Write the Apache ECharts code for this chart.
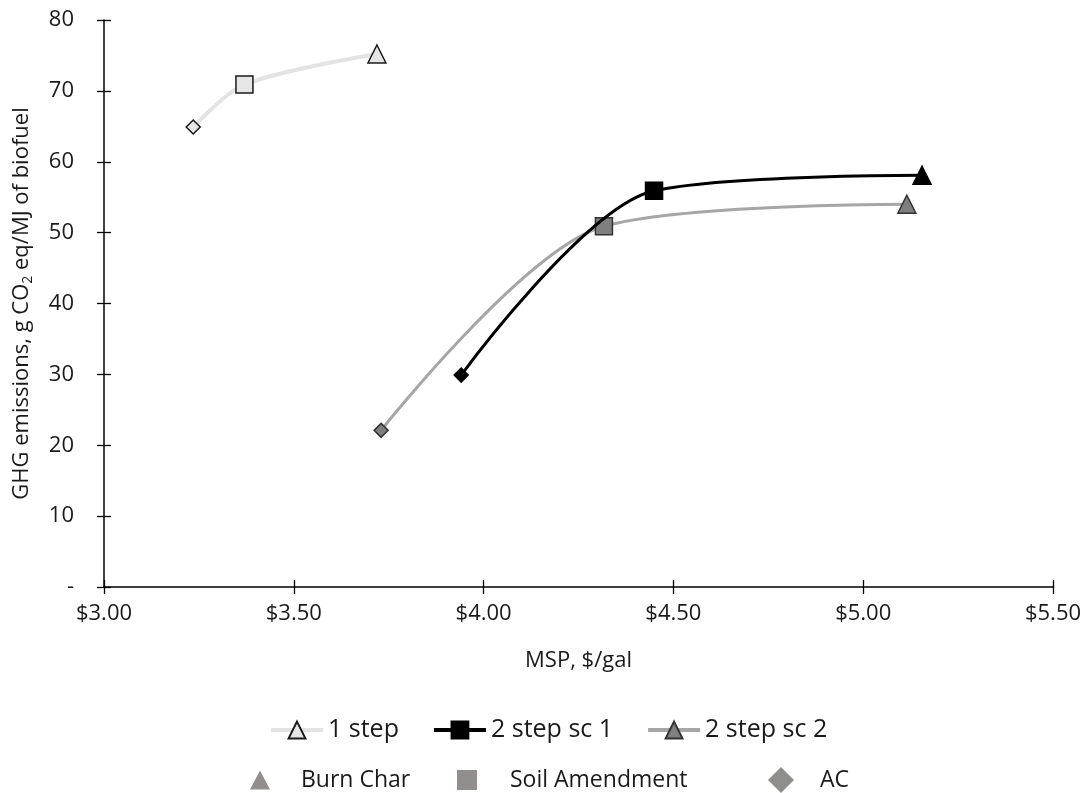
<!DOCTYPE html>
<html><head><meta charset="utf-8">
<script src="https://cdn.jsdelivr.net/npm/echarts@6/dist/echarts.min.js"></script>
<style>html,body{margin:0;padding:0;background:#fff}#c{width:1087px;height:793px}</style>
</head><body><div id="c"></div>
<script>
const seriesNames = ['1 step', '2 step sc 1', '2 step sc 2'];
const markerNames = ['Burn Char', 'Soil Amendment', 'AC'];
const pointSymbols = ['diamond', 'rect', 'triangle'];
const step1X = [3.235, 3.37, 3.719];
const step1Y = [64.9, 70.9, 75.2];
const sc1X = [3.941, 4.449, 5.155];
const sc1Y = [29.9, 55.9, 58.1];
const sc2X = [3.73, 4.317, 5.115];
const sc2Y = [22.1, 50.9, 54];
const xTicks = [3.0, 3.5, 4.0, 4.5, 5.0, 5.5];
const yTicks = [0, 10, 20, 30, 40, 50, 60, 70, 80];

const FONT = '"Open Sans", sans-serif';
const TXT = '#1a1a1a';
const symSize = {diamond: 14, rect: 17, triangle: 18};

function pts(xs, ys) {
  return xs.map((x, i) => ({value: [x, ys[i]], symbol: pointSymbols[i], symbolSize: symSize[pointSymbols[i]]}));
}

const styles = [
  {line: '#e3e3e3', width: 4, fill: '#e6e6e6', border: '#1a1a1a', sym: 'triangle'},
  {line: '#000000', width: 3, fill: '#000000', border: '#000000', sym: 'rect'},
  {line: '#a6a6a6', width: 3, fill: '#7f7f7f', border: '#333333', sym: 'triangle'}
];
const dataSets = [pts(step1X, step1Y), pts(sc1X, sc1Y), pts(sc2X, sc2Y)];

const series = seriesNames.map((n, i) => ({
  name: n, type: 'line', smooth: 0.3, xAxisIndex: 0, yAxisIndex: 0,
  symbol: styles[i].sym, symbolSize: 17,
  lineStyle: {color: styles[i].line, width: styles[i].width},
  itemStyle: {color: styles[i].fill, borderColor: styles[i].border, borderWidth: 1.5},
  data: dataSets[i], z: i === 1 ? 4 : 3
}));
const markerColor = '#777272';
const markerSyms = ['triangle', 'rect', 'diamond'];
markerNames.forEach((n, i) => series.push({
  name: n, type: 'scatter', symbol: markerSyms[i], data: [],
  itemStyle: {color: markerColor}
}));

const chart = echarts.init(document.getElementById('c'));
const axisCommon = {
  axisLine: {show: true, lineStyle: {color: '#000', width: 1.5}},
  splitLine: {show: false}
};
const tickStyle = {color: '#000', width: 1.3};
chart.setOption({
  animation: false,
  grid: {left: 104, right: 34, top: 20, bottom: 206},
  xAxis: [{
    type: 'value', min: xTicks[0], max: xTicks[xTicks.length - 1], interval: 0.5,
    ...axisCommon,
    axisTick: {show: true, length: 7, lineStyle: tickStyle},
    axisLabel: {fontFamily: FONT, fontSize: 22, color: TXT, margin: 16, formatter: v => '$' + v.toFixed(2)},
    name: 'MSP, $/gal', nameLocation: 'middle', nameGap: 63,
    nameTextStyle: {fontFamily: FONT, fontSize: 22, color: TXT}
  }, {
    type: 'value', position: 'bottom', min: xTicks[0], max: xTicks[xTicks.length - 1], interval: 0.5,
    axisLine: {show: false}, splitLine: {show: false}, axisLabel: {show: false},
    axisTick: {show: true, inside: true, length: 7, lineStyle: tickStyle}
  }],
  yAxis: [{
    type: 'value', min: yTicks[0], max: yTicks[yTicks.length - 1], interval: 10,
    ...axisCommon,
    axisTick: {show: true, length: 7, lineStyle: tickStyle},
    axisLabel: {fontFamily: FONT, fontSize: 22, color: TXT, margin: 30, formatter: v => v === 0 ? '-' : String(v)},
    name: '{a|GHG emissions, g CO}{s|2}{a| eq/MJ of biofuel}', nameLocation: 'middle', nameGap: 69, nameRotate: 90,
    nameTextStyle: {rich: {
      a: {fontFamily: FONT, fontSize: 22, color: TXT},
      s: {fontFamily: FONT, fontSize: 14, color: TXT, verticalAlign: 'bottom', padding: [12, 0, 0, 0]}
    }}
  }, {
    type: 'value', position: 'left', min: yTicks[0], max: yTicks[yTicks.length - 1], interval: 10,
    axisLine: {show: false}, splitLine: {show: false}, axisLabel: {show: false},
    axisTick: {show: true, inside: true, length: 7, lineStyle: tickStyle}
  }],
  legend: [
    {data: seriesNames, top: 715, left: 269, padding: 0, itemWidth: 52, itemHeight: 21, itemGap: 33,
     lineStyle: {width: 4},
     textStyle: {fontFamily: FONT, fontSize: 25, lineHeight: 30, color: TXT}},
    {data: [markerNames[0]], top: 766, left: 250, padding: 0, itemWidth: 20, itemHeight: 19,
     textStyle: {fontFamily: FONT, fontSize: 23, lineHeight: 28, color: TXT, padding: [0, 0, 0, 26]}},
    {data: [markerNames[1]], top: 766, left: 457, padding: 0, itemWidth: 20, itemHeight: 20,
     textStyle: {fontFamily: FONT, fontSize: 23, lineHeight: 28, color: TXT, padding: [0, 0, 0, 28]}},
    {data: [markerNames[2]], top: 766, left: 768, padding: 0, itemWidth: 26, itemHeight: 26,
     textStyle: {fontFamily: FONT, fontSize: 23, lineHeight: 28, color: TXT, padding: [0, 0, 0, 21]}}
  ],
  series: series
});
</script></body></html>
